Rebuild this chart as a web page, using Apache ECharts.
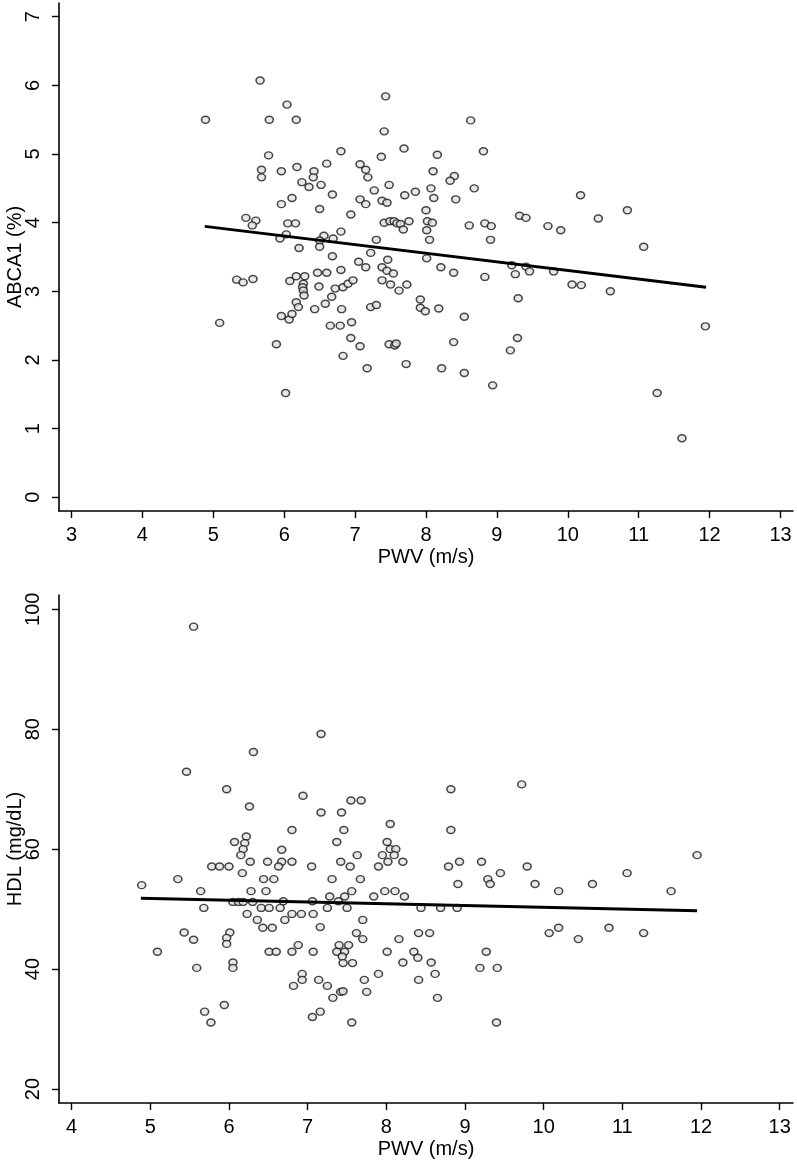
<!DOCTYPE html>
<html>
<head>
<meta charset="utf-8">
<script src="https://cdn.jsdelivr.net/npm/echarts@6/dist/echarts.min.js"></script>
<style>
html,body{margin:0;padding:0;background:#fff;}
#chart{width:797px;height:1163px;}
</style>
</head>
<body>
<div id="chart"></div>
<script>
// ---- Data ----
const topXTicks = [3,4,5,6,7,8,9,10,11,12,13];
const topYTicks = [0,1,2,3,4,5,6,7];
const bottomXTicks = [4,5,6,7,8,9,10,11,12,13];
const bottomYTicks = [20,40,60,80,100];

const topXName = 'PWV (m/s)';
const topYName = 'ABCA1 (%)';
const bottomXName = 'PWV (m/s)';
const bottomYName = 'HDL (mg/dL)';

// PWV vs ABCA1 (%)
const abca1Points = [
[5.66,6.07],[6.04,5.72],[4.89,5.50],[5.79,5.50],[6.17,5.50],[5.78,4.98],[6.80,5.04],
[5.68,4.77],[5.68,4.66],[5.96,4.75],[6.18,4.81],[6.42,4.75],[6.41,4.66],[6.60,4.86],
[6.25,4.59],[6.35,4.52],[6.52,4.55],[6.68,4.41],[6.11,4.36],[5.96,4.27],[6.50,4.20],
[6.94,4.12],[5.46,4.07],[5.60,4.03],[5.55,3.96],[6.05,3.99],[6.16,3.99],[6.80,3.87],
[6.03,3.83],[5.94,3.77],[6.56,3.81],[6.69,3.77],[6.50,3.74],[6.50,3.65],[6.21,3.63],
[6.68,3.51],[6.80,3.31],[5.33,3.17],[5.42,3.13],[5.56,3.18],[6.08,3.15],[6.17,3.22],
[6.29,3.22],[6.27,3.11],[6.26,3.06],[6.27,3.01],[6.28,2.94],[6.47,3.27],[6.60,3.27],
[6.49,3.07],[6.72,3.04],[6.83,3.06],[6.90,3.11],[6.97,3.16],[6.17,2.84],[6.20,2.77],
[6.43,2.74],[6.58,2.82],[6.67,2.92],[6.81,2.74],[5.96,2.64],[6.07,2.59],[6.11,2.67],
[5.09,2.54],[6.65,2.50],[6.79,2.50],[6.95,2.55],[6.94,2.32],[5.89,2.23],[6.83,2.06],
[6.02,1.52],
[7.43,5.84],[8.63,5.49],[7.41,5.33],[7.69,5.08],[8.16,4.99],[8.81,5.04],[7.37,4.96],
[7.07,4.85],[7.15,4.77],[7.18,4.66],[8.10,4.75],[8.40,4.68],[8.34,4.61],[7.48,4.55],
[7.27,4.47],[8.07,4.50],[8.68,4.50],[7.85,4.45],[7.70,4.40],[8.11,4.36],[7.07,4.34],
[7.15,4.27],[7.38,4.32],[7.45,4.29],[8.42,4.34],[8.00,4.18],[7.41,4.00],[7.49,4.02],
[7.55,4.02],[7.59,3.99],[7.64,3.98],[7.68,3.90],[7.76,4.02],[8.02,4.02],[8.09,4.00],
[8.01,3.89],[8.05,3.75],[8.61,3.96],[8.83,3.99],[8.92,3.95],[8.91,3.75],[7.30,3.75],
[7.22,3.56],[8.01,3.48],[7.46,3.46],[7.05,3.43],[7.15,3.35],[7.38,3.35],[7.45,3.30],
[7.54,3.26],[8.21,3.35],[8.39,3.27],[8.83,3.21],[9.21,3.38],[9.26,3.25],[7.38,3.16],
[7.50,3.10],[7.62,3.01],[7.73,3.10],[9.30,2.90],[7.22,2.77],[7.30,2.80],[7.92,2.88],
[7.92,2.76],[7.99,2.71],[8.18,2.75],[8.54,2.63],[7.07,2.20],[7.48,2.23],[7.56,2.21],
[7.58,2.24],[8.39,2.26],[9.29,2.32],[9.19,2.14],[7.17,1.88],[7.72,1.94],[8.22,1.88],
[8.54,1.81],[8.94,1.63],
[10.18,4.40],[10.84,4.18],[10.43,4.06],[9.32,4.10],[9.41,4.07],[9.72,3.95],[9.90,3.89],
[11.07,3.65],[9.41,3.36],[9.46,3.29],[9.80,3.29],[10.06,3.10],[10.19,3.09],[10.60,3.00],
[11.94,2.49],[11.26,1.52],[11.61,0.86]
];
const abca1Fit = [[4.88,3.946],[11.95,3.06]];

// PWV vs HDL (mg/dL)
const hdlPoints = [
[6.31,76.2],[5.46,72.9],[5.97,70.0],[6.26,67.1],[6.94,68.9],[6.80,63.2],[6.22,62.1],
[6.07,61.2],[6.20,61.0],[6.18,60.0],[6.15,59.0],[6.67,59.9],[5.78,57.1],[5.88,57.1],
[6.00,57.1],[6.27,57.9],[6.49,57.9],[6.67,57.9],[6.63,57.1],[6.80,57.9],[6.17,56.0],
[4.89,54.0],[5.35,55.0],[6.44,55.0],[6.57,55.0],[5.64,53.0],[6.28,53.0],[6.47,53.0],
[6.05,51.2],[6.12,51.2],[6.18,51.2],[6.30,51.2],[6.69,51.3],[5.68,50.2],[6.41,50.2],
[6.51,50.2],[6.65,50.2],[6.80,49.2],[6.92,49.2],[6.23,49.2],[6.71,48.2],[6.36,48.2],
[6.43,46.9],[6.55,46.9],[5.43,46.1],[5.55,44.9],[6.01,46.1],[5.97,45.2],[5.97,44.2],
[5.09,42.9],[6.51,42.9],[6.60,42.9],[6.80,42.9],[6.88,44.0],[5.59,40.2],[6.05,41.1],
[6.05,40.2],[6.93,39.2],[6.93,38.2],[6.82,37.2],[5.94,34.0],[5.69,32.9],[5.77,31.1],
[7.17,79.2],[7.55,68.1],[7.68,68.1],[8.82,70.0],[7.17,66.1],[7.43,66.1],[8.05,64.2],
[7.46,63.2],[8.82,63.2],[7.37,61.2],[8.01,61.2],[8.05,60.0],[8.12,60.0],[7.95,59.0],
[8.10,59.0],[8.02,57.9],[8.21,57.9],[7.63,59.0],[7.42,57.9],[7.54,57.1],[7.05,57.1],
[7.90,57.1],[8.79,57.1],[8.93,57.9],[9.21,57.9],[7.31,55.0],[7.67,55.0],[8.91,54.2],
[7.56,53.0],[7.98,53.0],[8.11,53.0],[7.84,52.1],[8.23,52.1],[7.28,52.1],[7.47,52.1],
[7.06,51.3],[7.39,51.3],[7.07,49.2],[7.25,50.2],[7.50,50.2],[8.44,50.2],[8.69,50.2],
[8.90,50.2],[7.70,48.2],[7.16,47.0],[7.62,46.0],[7.70,45.0],[8.41,46.0],[8.55,46.0],
[8.16,45.0],[7.07,42.9],[7.40,44.0],[7.52,44.0],[7.37,42.9],[7.47,42.9],[7.44,42.1],
[7.45,41.0],[7.57,41.0],[8.01,42.9],[8.35,42.9],[8.40,41.9],[8.21,41.1],[8.57,41.1],
[7.14,38.2],[7.25,37.2],[7.72,38.2],[7.90,39.2],[8.41,38.2],[8.62,39.2],[7.42,36.2],
[7.45,36.3],[7.32,35.2],[7.75,36.2],[8.65,35.2],[7.16,32.9],[7.06,32.0],[7.56,31.1],
[9.79,57.1],[9.29,55.0],[9.32,54.2],[9.45,56.0],[9.89,54.2],[10.62,54.2],[11.06,56.0],
[11.95,59.0],[10.19,53.0],[11.62,53.0],[10.07,46.0],[10.19,46.9],[10.44,45.0],[10.83,46.9],
[11.27,46.0],[9.27,42.9],[9.19,40.2],[9.41,40.2],[9.40,31.1],[5.55,97.1],[9.72,70.8]
];
const hdlFit = [[4.88,51.83],[11.95,49.72]];

// ---- Chart ----
const FONT = '"Liberation Sans", Arial, Helvetica, sans-serif';
const black = '#000';

function xAxisDef(idx, min, max, ticks, name) {
  return {
    type: 'value', gridIndex: idx, min: min, max: max,
    name: name, nameLocation: 'middle', nameGap: 36, nameMoveOverlap: false,
    nameTextStyle: {color: black, fontSize: 20, fontFamily: FONT},
    axisLine: {show: true, onZero: false, lineStyle: {color: black, width: 1.6}},
    axisTick: {show: true, customValues: ticks, length: 7, inside: false, lineStyle: {color: black, width: 1.4}},
    axisLabel: {show: true, customValues: ticks, color: black, fontSize: 20, fontFamily: FONT, margin: 14},
    splitLine: {show: false}
  };
}
function yAxisDef(idx, min, max, ticks, name) {
  return {
    type: 'value', gridIndex: idx, min: min, max: max,
    name: name, nameLocation: 'middle', nameGap: 34, nameRotate: 90, nameMoveOverlap: false,
    nameTextStyle: {color: black, fontSize: 20, fontFamily: FONT},
    axisLine: {show: true, onZero: false, lineStyle: {color: black, width: 1.6}},
    axisTick: {show: true, customValues: ticks, length: 7, inside: false, lineStyle: {color: black, width: 1.4}},
    axisLabel: {show: true, customValues: ticks, color: black, fontSize: 20, fontFamily: FONT, margin: 16, rotate: 90},
    splitLine: {show: false}
  };
}

const markerStyle = {color: '#e2e2e2', borderColor: '#1a1a1a', borderWidth: 1.5};

const chart = echarts.init(document.getElementById('chart'), null, {renderer: 'canvas'});
chart.setOption({
  animation: false,
  backgroundColor: '#fff',
  grid: [
    {left: 59, top: 3, width: 734, height: 508, outerBoundsMode: 'none', containLabel: false},
    {left: 59, top: 595, width: 734, height: 508, outerBoundsMode: 'none', containLabel: false}
  ],
  xAxis: [
    xAxisDef(0, 2.824, 13.176, topXTicks, topXName),
    xAxisDef(1, 3.839, 13.169, bottomXTicks, bottomXName)
  ],
  yAxis: [
    yAxisDef(0, -0.2, 7.2, topYTicks, topYName),
    yAxisDef(1, 17.67, 102.38, bottomYTicks, bottomYName)
  ],
  series: [
    {type: 'scatter', xAxisIndex: 0, yAxisIndex: 0, data: abca1Points,
     symbol: 'circle', symbolSize: [8, 7], itemStyle: markerStyle, z: 2},
    {type: 'line', xAxisIndex: 0, yAxisIndex: 0, data: abca1Fit,
     showSymbol: false, symbol: 'none', lineStyle: {color: black, width: 3}, z: 3},
    {type: 'scatter', xAxisIndex: 1, yAxisIndex: 1, data: hdlPoints,
     symbol: 'circle', symbolSize: [8, 7], itemStyle: markerStyle, z: 2},
    {type: 'line', xAxisIndex: 1, yAxisIndex: 1, data: hdlFit,
     showSymbol: false, symbol: 'none', lineStyle: {color: black, width: 3}, z: 3}
  ]
});
</script>
</body>
</html>
